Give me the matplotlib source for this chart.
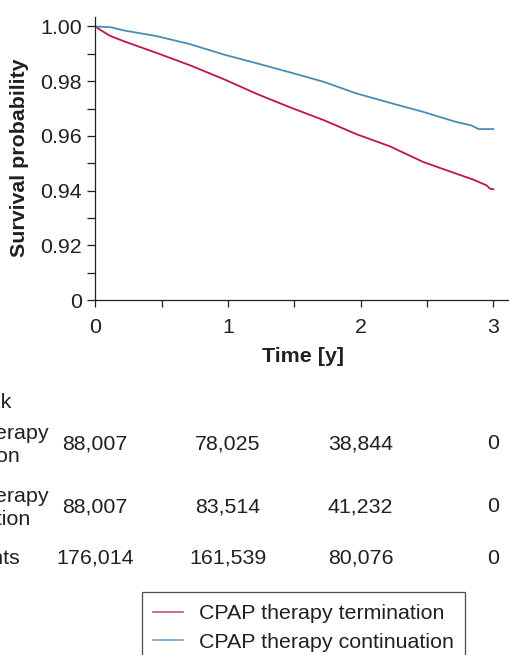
import matplotlib
matplotlib.use('Agg')
import matplotlib.pyplot as plt
import matplotlib.transforms as mtransforms
from matplotlib.lines import Line2D

plt.rcParams['font.family'] = ['Liberation Sans', 'DejaVu Sans']

# ---- data ----
time_term = [0.0, 0.04, 0.11, 0.21, 0.47, 0.72, 0.97, 1.22, 1.47, 1.72, 1.97,
             2.22, 2.47, 2.72, 2.85, 2.95, 2.975, 3.0]
surv_term = [1.0, 0.9987, 0.9966, 0.9947, 0.9902, 0.9857, 0.9807, 0.9753, 0.9704,
             0.9658, 0.9606, 0.9562, 0.9505, 0.9462, 0.9440, 0.9419, 0.9407, 0.9405]

time_cont = [0.0, 0.12, 0.21, 0.46, 0.71, 0.965, 1.22, 1.47, 1.72, 1.97, 2.22,
             2.47, 2.72, 2.83, 2.89, 3.0]
surv_cont = [1.0, 0.9997, 0.9986, 0.9965, 0.9936, 0.9898, 0.9865, 0.9832, 0.9798,
             0.9755, 0.9721, 0.9688, 0.9651, 0.9639, 0.9625, 0.9625]

series_labels = ['CPAP therapy termination', 'CPAP therapy continuation']

y_ticks = [0.90, 0.92, 0.94, 0.96, 0.98, 1.00]
y_tick_labels = ['0', '0.92', '0.94', '0.96', '0.98', '1.00']
y_minor = [0.91, 0.93, 0.95, 0.97, 0.99]
x_ticks = [0, 1, 2, 3]
x_minor = [0.5, 1.5, 2.5]

risk_header = 'No. at risk'
risk_row_labels = ['CPAP therapy\ntermination', 'CPAP therapy\ncontinuation', 'All patients']
risk_times = [0, 1, 2, 3]
risk_term = [88007, 78025, 38844, 0]
risk_cont = [88007, 83514, 41232, 0]
risk_all = [176014, 161539, 80076, 0]

# ---- styling ----
W, H = 510, 655
TXT = '#231f20'
RED = '#c2134b'
BLUE = '#4a8cb8'
FS = 15.4


def fx(px):
    return px / W


def fy(py):
    return 1 - py / H


fig = plt.figure(figsize=(W / 100, H / 100), dpi=100)
ax = fig.add_axes([fx(95.3), fy(300), fx(W - 95.3), (300 - 17) / H])

ax.plot(time_term, surv_term, color=RED, lw=1.3, solid_joinstyle='miter')
ax.plot(time_cont, surv_cont, color=BLUE, lw=1.3, solid_joinstyle='miter')

ax.set_xlim(0, 3.126)
ax.set_ylim(0.90, 1.00347)
ax.spines['top'].set_visible(False)
ax.spines['right'].set_visible(False)
for s in ('left', 'bottom'):
    ax.spines[s].set_linewidth(0.9)
    ax.spines[s].set_color(TXT)

ax.set_yticks(y_ticks)
ax.set_yticklabels(y_tick_labels)
ax.set_yticks(y_minor, minor=True)
ax.set_xticks(x_ticks)
ax.set_xticklabels([str(t) for t in x_ticks])
ax.set_xticks(x_minor, minor=True)
ax.tick_params(axis='y', which='both', length=5.8, width=0.9, color=TXT,
               labelsize=FS, labelcolor=TXT, pad=4)
ax.tick_params(axis='x', which='both', length=5, width=0.9, color=TXT,
               labelsize=FS, labelcolor=TXT, pad=8)

fig.text(fx(19.5), fy(158), 'Survival probability', rotation=90, ha='center',
         va='center', fontsize=FS, fontweight='bold', color=TXT)
fig.text(fx(303), fy(357), 'Time [y]', ha='center', va='center', fontsize=FS,
         fontweight='bold', color=TXT)

# ---- number at risk table ----
tr = mtransforms.blended_transform_factory(ax.transData, fig.transFigure)
label_x = fx(-85)
fig.text(label_x, fy(402), risk_header, ha='left', va='center', fontsize=FS, color=TXT)
row_centers = [445, 508, 558]
for lab, yc in zip(risk_row_labels, row_centers):
    fig.text(label_x, fy(yc), lab, ha='left', va='center', fontsize=FS, color=TXT,
             linespacing=1.3, multialignment='left')
for row, yc in zip([risk_term, risk_cont, risk_all], [443.5, 507, 558.5]):
    for t, n in zip(risk_times, row):
        ax.text(t, fy(yc), f'{n:,}', transform=tr, ha='center', va='center',
                fontsize=FS, color=TXT, clip_on=False)

# ---- legend ----
handles = [Line2D([], [], color='#d04a78', lw=1.2),
           Line2D([], [], color='#6ba3c8', lw=1.2)]
leg = fig.legend(handles, series_labels, loc='upper left',
                 bbox_to_anchor=(fx(141.7), fy(592.3)), frameon=True,
                 fancybox=False, fontsize=FS, handlelength=1.4,
                 handletextpad=0.72, borderpad=0.55, labelspacing=0.45,
                 borderaxespad=0)
leg.get_frame().set_edgecolor(TXT)
leg.get_frame().set_linewidth(0.9)
for t in leg.get_texts():
    t.set_color(TXT)

fig.savefig('out.png', dpi=100)
